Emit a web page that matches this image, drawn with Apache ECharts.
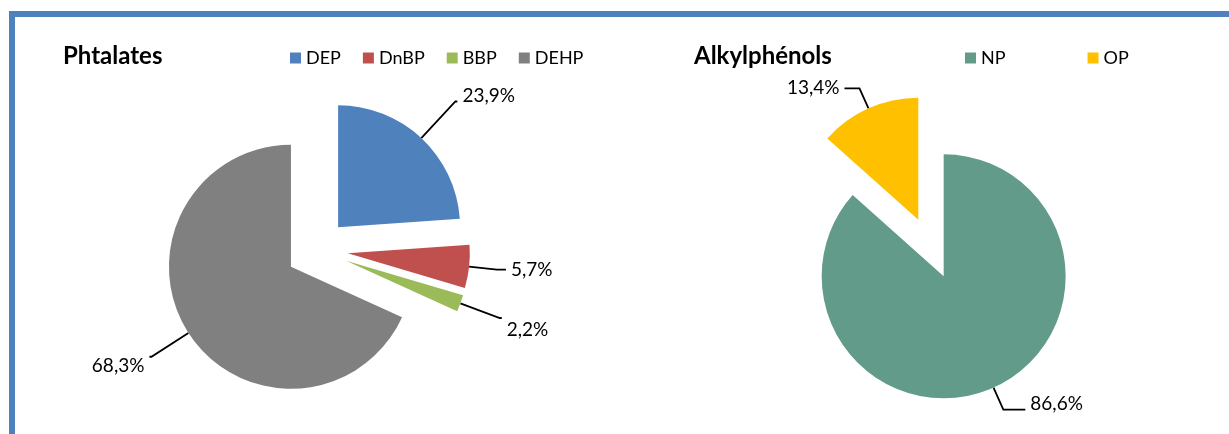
<!DOCTYPE html>
<html>
<head>
<meta charset="utf-8">
<script src="https://cdn.jsdelivr.net/npm/echarts@6/dist/echarts.min.js"></script>
<style>
  html, body { margin: 0; padding: 0; background: #fff; overflow: hidden; }
  #frame { position: absolute; left: 9px; top: 11px; width: 1300px; height: 500px;
           border-top: 6px solid #4F81BD; border-left: 6px solid #4F81BD; }
  #chart { position: absolute; left: 0; top: 0; width: 1229px; height: 434px; }
</style>
</head>
<body>
<div id="frame"></div>
<div id="chart"></div>
<script>
// Phthalates share (%)
const phtNames = ['DEP', 'DnBP', 'BBP', 'DEHP'];
const phtValues = [23.9, 5.7, 2.2, 68.3];
// Alkylphenols share (%)
const alkNames = ['NP', 'OP'];
const alkValues = [86.6, 13.4];

const phtColors = ['#4F81BD', '#C0504D', '#9BBB59', '#808080'];
const alkColors = ['#639B8B', '#FFC000'];
// leader line: [first segment, horizontal segment, vertical nudge of the text]
const phtLeader = [[50, 2, -6], [28, 9, 0], [42, 2, 12], [44, 2, 9]];
const alkLeader = [[24, 22, -6], [22, 15, 0]];

const FONT = 'Lato, "Liberation Sans", sans-serif';

function fmt(p) {
  return '{t|' + p.value.toFixed(1).replace('.', ',') + '%}';
}

function buildData(names, values, colors, leader) {
  return names.map((n, i) => {
    const [len, len2, dy] = leader[i];
    return {
      name: n,
      value: values[i],
      selected: true,
      itemStyle: { color: colors[i] },
      label: {
        backgroundColor: 'rgba(255,255,255,0)',
        padding: dy >= 0 ? [2 * dy, 0, 0, 0] : [0, 0, -2 * dy, 0]
      },
      labelLine: { length: len, length2: len2 }
    };
  });
}

function pieSeries(names, values, colors, leader, center) {
  return {
    type: 'pie',
    center: center,
    radius: 122,
    startAngle: 90,
    clockwise: true,
    selectedMode: 'multiple',
    selectedOffset: 31,
    avoidLabelOverlap: false,
    silent: true,
    emphasis: { disabled: true },
    select: { itemStyle: { borderWidth: 0 } },
    label: {
      show: true,
      position: 'outside',
      formatter: fmt,
      color: '#000',
      fontFamily: FONT,
      fontSize: 19,
      distanceToLabelLine: 5,
      rich: { t: { fontFamily: FONT, fontSize: 19, color: '#000' } }
    },
    labelLine: {
      show: true,
      lineStyle: { color: '#000', width: 1.8 }
    },
    data: buildData(names, values, colors, leader)
  };
}

const legendText = { fontFamily: FONT, fontSize: 18, color: '#000' };

const chart = echarts.init(document.getElementById('chart'), null, { renderer: 'canvas' });
chart.setOption({
  animation: false,
  backgroundColor: 'transparent',
  title: [
    { text: 'Phtalates', left: 63, top: 44, padding: 0,
      textStyle: { fontFamily: FONT, fontWeight: 'bold', fontSize: 24, color: '#000' } },
    { text: 'Alkylphénols', left: 694, top: 44, padding: 0,
      textStyle: { fontFamily: FONT, fontWeight: 'bold', fontSize: 24, color: '#000' } }
  ],
  legend: [
    { data: phtNames, left: 290, top: 49, padding: 0, itemWidth: 11, itemHeight: 11, itemGap: 22,
      icon: 'rect', selectedMode: false, textStyle: legendText },
    { data: alkNames, left: 965, top: 49, padding: 0, itemWidth: 11, itemHeight: 11, itemGap: 82,
      icon: 'rect', selectedMode: false, textStyle: legendText }
  ],
  series: [
    pieSeries(phtNames, phtValues, phtColors, phtLeader, [317, 250]),
    pieSeries(alkNames, alkValues, alkColors, alkLeader, [931, 248])
  ]
});
</script>
</body>
</html>
